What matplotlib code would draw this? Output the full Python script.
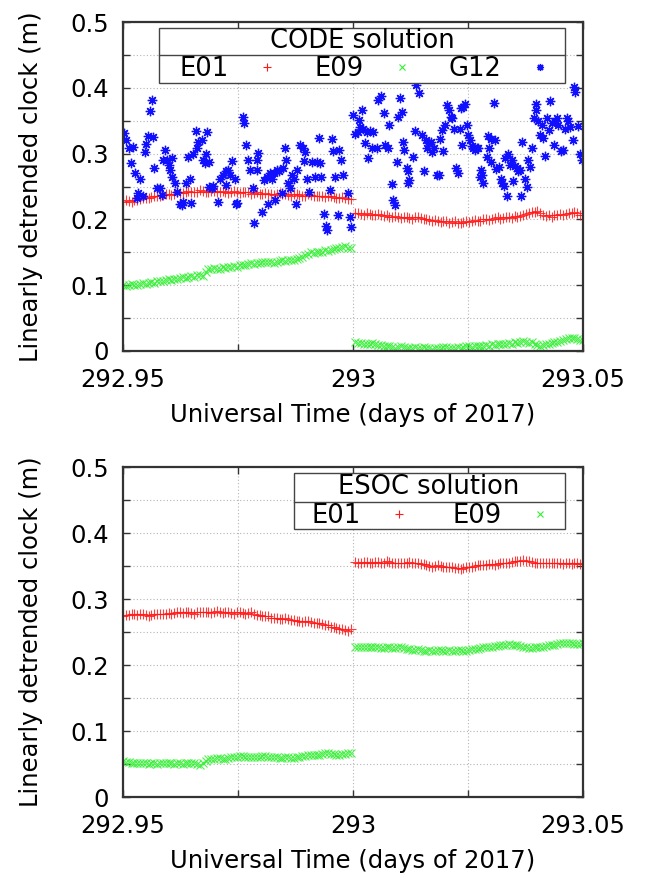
import numpy as np
import matplotlib
matplotlib.use("Agg")
import matplotlib.pyplot as plt
from matplotlib.patches import Rectangle
from matplotlib.lines import Line2D

plt.rcParams["font.family"] = ["DejaVu Sans"]

# ---------------- data ----------------
ARC1 = (292.95, 292.9995)   # first arc time span (days of 2017)
ARC2 = (293.0005, 293.05)   # second arc time span

# CODE solution (regularly sampled clock values, m)
code_e01_arc1 = [0.227, 0.229, 0.228, 0.227, 0.229, 0.230, 0.231, 0.233, 0.232, 0.232,
                 0.234, 0.236, 0.235, 0.235, 0.237, 0.238, 0.238, 0.237, 0.239, 0.241,
                 0.240, 0.240, 0.241, 0.243, 0.242, 0.241, 0.242, 0.244, 0.243, 0.241,
                 0.242, 0.243, 0.243, 0.241, 0.242, 0.243, 0.241, 0.240, 0.242, 0.243,
                 0.241, 0.240, 0.242, 0.242, 0.241, 0.239, 0.240, 0.241, 0.239, 0.238,
                 0.240, 0.239, 0.238, 0.237, 0.238, 0.240, 0.239, 0.238, 0.237, 0.236,
                 0.238, 0.239, 0.237, 0.236, 0.236, 0.238, 0.237, 0.235, 0.236, 0.236,
                 0.235, 0.234, 0.236, 0.235, 0.234, 0.232, 0.233, 0.234, 0.232, 0.231,
                 0.231]
code_e01_arc2 = [0.209, 0.210, 0.208, 0.207, 0.209, 0.208, 0.206, 0.207, 0.208, 0.206,
                 0.205, 0.206, 0.204, 0.203, 0.205, 0.204, 0.202, 0.203, 0.204, 0.202,
                 0.201, 0.203, 0.204, 0.202, 0.201, 0.200, 0.199, 0.198, 0.199, 0.197,
                 0.196, 0.198, 0.197, 0.195, 0.196, 0.197, 0.195, 0.194, 0.196, 0.197,
                 0.196, 0.198, 0.199, 0.197, 0.198, 0.200, 0.201, 0.199, 0.201, 0.202,
                 0.203, 0.201, 0.202, 0.204, 0.203, 0.202, 0.205, 0.204, 0.205, 0.207,
                 0.208, 0.210, 0.212, 0.211, 0.213, 0.210, 0.207, 0.205, 0.206, 0.204,
                 0.206, 0.207, 0.208, 0.206, 0.208, 0.209, 0.210, 0.211, 0.209, 0.207,
                 0.206]
code_e09_arc1 = [0.100, 0.099, 0.101, 0.102, 0.101, 0.100, 0.102, 0.103, 0.102, 0.104,
                 0.105, 0.104, 0.106, 0.107, 0.106, 0.108, 0.109, 0.108, 0.110, 0.109,
                 0.111, 0.112, 0.111, 0.113, 0.114, 0.113, 0.115, 0.116, 0.114, 0.120,
                 0.124, 0.125, 0.126, 0.124, 0.125, 0.127, 0.126, 0.128, 0.127, 0.129,
                 0.128, 0.130, 0.131, 0.130, 0.132, 0.133, 0.132, 0.134, 0.134, 0.135,
                 0.136, 0.135, 0.136, 0.134, 0.135, 0.137, 0.138, 0.137, 0.138, 0.139,
                 0.138, 0.140, 0.141, 0.143, 0.146, 0.148, 0.150, 0.149, 0.151, 0.150,
                 0.151, 0.153, 0.152, 0.154, 0.155, 0.156, 0.157, 0.158, 0.159, 0.157,
                 0.156]
code_e09_arc2 = [0.013, 0.012, 0.012, 0.011, 0.010, 0.011, 0.012, 0.010, 0.009, 0.009,
                 0.008, 0.007, 0.007, 0.006, 0.005, 0.006, 0.007, 0.006, 0.005, 0.004,
                 0.005, 0.006, 0.005, 0.004, 0.006, 0.005, 0.004, 0.003, 0.005, 0.004,
                 0.005, 0.006, 0.006, 0.005, 0.004, 0.005, 0.006, 0.005, 0.006, 0.007,
                 0.007, 0.006, 0.008, 0.007, 0.007, 0.008, 0.009, 0.008, 0.010, 0.009,
                 0.011, 0.010, 0.010, 0.011, 0.012, 0.011, 0.013, 0.012, 0.014, 0.015,
                 0.014, 0.012, 0.013, 0.010, 0.009, 0.008, 0.009, 0.010, 0.011, 0.012,
                 0.013, 0.014, 0.015, 0.016, 0.018, 0.019, 0.020, 0.019, 0.018, 0.017,
                 0.016]

code_g12_t = [292.9502, 292.9507, 292.9512, 292.9522, 292.9517, 292.9526, 292.9537, 292.9533,
              292.9530, 292.9544, 292.9559, 292.9562, 292.9555, 292.9566, 292.9550, 292.9548,
              292.9567, 292.9573, 292.9580, 292.9584, 292.9591, 292.9588, 292.9595, 292.9606,
              292.9599, 292.9602, 292.9606, 292.9613, 292.9617, 292.9624, 292.9631, 292.9628,
              292.9647, 292.9642, 292.9646, 292.9638, 292.9653, 292.9659, 292.9664, 292.9671,
              292.9660, 292.9673, 292.9680, 292.9683, 292.9678, 292.9688, 292.9686, 292.9693,
              292.9695, 292.9707, 292.9711, 292.9718, 292.9724, 292.9729, 292.9733, 292.9725,
              292.9738, 292.9743, 292.9746, 292.9747, 292.9760, 292.9763, 292.9767, 292.9772,
              292.9776, 292.9783, 292.9785, 292.9791, 292.9794, 292.9791, 292.9802, 292.9807,
              292.9812, 292.9816, 292.9820, 292.9823, 292.9830, 292.9828, 292.9834, 292.9840,
              292.9847, 292.9845, 292.9852, 292.9854, 292.9859, 292.9863, 292.9867, 292.9872,
              292.9878, 292.9876, 292.9885, 292.9891, 292.9893, 292.9896, 292.9899, 292.9905,
              292.9912, 292.9917, 292.9921, 292.9927, 292.9928, 292.9930, 292.9937, 292.9941,
              292.9943, 292.9950, 292.9954, 292.9957, 292.9961, 292.9968, 292.9970, 292.9975,
              292.9979, 292.9990, 292.9993, 292.9996,
              293.0001, 293.0013, 293.0010, 293.0015, 293.0004, 293.0019, 293.0022, 293.0030,
              293.0037, 293.0044, 293.0026, 293.0032, 293.0041, 293.0052, 293.0055, 293.0061,
              293.0068, 293.0070, 293.0077, 293.0078, 293.0085, 293.0088, 293.0091, 293.0095,
              293.0098, 293.0102, 293.0107, 293.0109, 293.0111, 293.0117, 293.0120, 293.0122,
              293.0119, 293.0131, 293.0135, 293.0138, 293.0143, 293.0149, 293.0155, 293.0158,
              293.0162, 293.0165, 293.0170, 293.0172, 293.0177, 293.0182, 293.0187, 293.0189,
              293.0193, 293.0196, 293.0200, 293.0204, 293.0209, 293.0213, 293.0216, 293.0220,
              293.0223, 293.0228, 293.0233, 293.0235, 293.0240, 293.0243, 293.0238, 293.0247,
              293.0251, 293.0254, 293.0258, 293.0262, 293.0265, 293.0269, 293.0272, 293.0278,
              293.0281, 293.0283, 293.0276, 293.0291, 293.0296, 293.0294, 293.0301, 293.0307,
              293.0309, 293.0301, 293.0312, 293.0317, 293.0322, 293.0325, 293.0329, 293.0334,
              293.0330, 293.0338, 293.0341, 293.0345, 293.0349, 293.0352, 293.0356, 293.0359,
              293.0363, 293.0367, 293.0365, 293.0374, 293.0378, 293.0381, 293.0385, 293.0390,
              293.0394, 293.0397, 293.0399, 293.0403, 293.0407, 293.0410, 293.0414, 293.0417,
              293.0421, 293.0428, 293.0426, 293.0432, 293.0437, 293.0439, 293.0443, 293.0446,
              293.0452, 293.0457, 293.0461, 293.0465, 293.0468, 293.0472, 293.0479, 293.0481,
              293.0483, 293.0490, 293.0493, 293.0498]
code_g12_clk = [0.332, 0.321, 0.308, 0.310, 0.286, 0.270, 0.262, 0.240,
                0.232, 0.236, 0.365, 0.381, 0.327, 0.325, 0.315, 0.303,
                0.278, 0.247, 0.247, 0.237, 0.305, 0.290, 0.290, 0.294,
                0.283, 0.275, 0.265, 0.255, 0.242, 0.224, 0.227, 0.222,
                0.225, 0.295, 0.262, 0.255, 0.300, 0.335, 0.317, 0.321,
                0.308, 0.290, 0.300, 0.333, 0.285, 0.288, 0.250, 0.247,
                0.251, 0.227, 0.262, 0.267, 0.273, 0.275, 0.267, 0.252,
                0.289, 0.262, 0.223, 0.225, 0.355, 0.346, 0.313, 0.290,
                0.275, 0.247, 0.195, 0.290, 0.301, 0.275, 0.212, 0.260,
                0.265, 0.224, 0.270, 0.261, 0.229, 0.270, 0.275, 0.274,
                0.278, 0.240, 0.308, 0.290, 0.255, 0.247, 0.267, 0.262,
                0.275, 0.223, 0.313, 0.309, 0.289, 0.303, 0.262, 0.242,
                0.288, 0.264, 0.288, 0.323, 0.285, 0.265, 0.208, 0.190,
                0.184, 0.245, 0.322, 0.304, 0.265, 0.207, 0.306, 0.290,
                0.267, 0.240, 0.203, 0.189,
                0.359, 0.351, 0.333, 0.341, 0.330, 0.367, 0.338, 0.333,
                0.335, 0.333, 0.316, 0.293, 0.309, 0.308, 0.381, 0.388,
                0.361, 0.313, 0.309, 0.343, 0.254, 0.229, 0.222, 0.288,
                0.356, 0.384, 0.364, 0.317, 0.305, 0.278, 0.273, 0.260,
                0.256, 0.295, 0.335, 0.404, 0.392, 0.328, 0.273, 0.321,
                0.309, 0.316, 0.318, 0.303, 0.308, 0.267, 0.267, 0.322,
                0.336, 0.304, 0.343, 0.374, 0.366, 0.356, 0.354, 0.337,
                0.278, 0.271, 0.337, 0.369, 0.371, 0.376, 0.313, 0.343,
                0.328, 0.321, 0.312, 0.308, 0.306, 0.309, 0.308, 0.275,
                0.267, 0.256, 0.265, 0.295, 0.309, 0.327, 0.322, 0.377,
                0.321, 0.288, 0.276, 0.280, 0.262, 0.256, 0.251, 0.236,
                0.294, 0.299, 0.283, 0.291, 0.259, 0.281, 0.278, 0.273,
                0.275, 0.317, 0.236, 0.262, 0.250, 0.290, 0.279, 0.308,
                0.354, 0.376, 0.366, 0.349, 0.328, 0.343, 0.323, 0.296,
                0.354, 0.380, 0.336, 0.346, 0.313, 0.349, 0.354, 0.343,
                0.304, 0.306, 0.338, 0.354, 0.349, 0.341, 0.321, 0.402,
                0.394, 0.342, 0.300, 0.290]

# ESOC solution
esoc_e01_arc1 = [0.275, 0.276, 0.276, 0.277, 0.277, 0.276, 0.277, 0.278, 0.276, 0.274,
                 0.276, 0.277, 0.278, 0.277, 0.277, 0.278, 0.279, 0.278, 0.279, 0.280,
                 0.280, 0.279, 0.280, 0.281, 0.279, 0.278, 0.280, 0.281, 0.281, 0.280,
                 0.280, 0.279, 0.281, 0.282, 0.280, 0.279, 0.280, 0.281, 0.279, 0.278,
                 0.280, 0.281, 0.279, 0.278, 0.279, 0.280, 0.277, 0.276, 0.276, 0.275,
                 0.275, 0.274, 0.272, 0.271, 0.271, 0.270, 0.270, 0.271, 0.270, 0.268,
                 0.268, 0.267, 0.266, 0.265, 0.266, 0.267, 0.265, 0.264, 0.264, 0.263,
                 0.262, 0.260, 0.260, 0.258, 0.257, 0.256, 0.255, 0.254, 0.253, 0.252,
                 0.254]
esoc_e01_arc2 = [0.356, 0.355, 0.355, 0.356, 0.356, 0.354, 0.355, 0.356, 0.356, 0.355,
                 0.355, 0.357, 0.356, 0.355, 0.355, 0.354, 0.354, 0.355, 0.355, 0.356,
                 0.355, 0.354, 0.354, 0.353, 0.353, 0.351, 0.350, 0.349, 0.350, 0.351,
                 0.350, 0.349, 0.349, 0.348, 0.348, 0.347, 0.347, 0.346, 0.347, 0.348,
                 0.348, 0.349, 0.350, 0.351, 0.351, 0.352, 0.352, 0.353, 0.353, 0.352,
                 0.353, 0.354, 0.354, 0.355, 0.355, 0.356, 0.357, 0.357, 0.358, 0.359,
                 0.358, 0.357, 0.356, 0.354, 0.354, 0.355, 0.355, 0.354, 0.354, 0.355,
                 0.355, 0.354, 0.354, 0.353, 0.354, 0.354, 0.353, 0.354, 0.354, 0.353,
                 0.353]
esoc_e09_arc1 = [0.054, 0.053, 0.053, 0.052, 0.052, 0.051, 0.051, 0.052, 0.052, 0.050,
                 0.051, 0.052, 0.050, 0.051, 0.052, 0.051, 0.052, 0.051, 0.050, 0.052,
                 0.051, 0.050, 0.051, 0.052, 0.052, 0.051, 0.050, 0.049, 0.051, 0.055,
                 0.057, 0.058, 0.058, 0.059, 0.059, 0.058, 0.057, 0.059, 0.060, 0.061,
                 0.061, 0.062, 0.062, 0.061, 0.061, 0.060, 0.060, 0.061, 0.061, 0.062,
                 0.062, 0.061, 0.061, 0.060, 0.060, 0.059, 0.059, 0.060, 0.060, 0.059,
                 0.059, 0.060, 0.061, 0.062, 0.062, 0.063, 0.064, 0.063, 0.063, 0.064,
                 0.065, 0.066, 0.066, 0.065, 0.065, 0.064, 0.064, 0.065, 0.065, 0.066,
                 0.066]
esoc_e09_arc2 = [0.228, 0.227, 0.227, 0.228, 0.228, 0.227, 0.227, 0.228, 0.228, 0.226,
                 0.226, 0.227, 0.227, 0.226, 0.226, 0.227, 0.227, 0.226, 0.225, 0.224,
                 0.223, 0.223, 0.224, 0.223, 0.222, 0.222, 0.223, 0.222, 0.222, 0.223,
                 0.223, 0.222, 0.222, 0.223, 0.222, 0.222, 0.223, 0.223, 0.222, 0.222,
                 0.223, 0.224, 0.224, 0.225, 0.226, 0.227, 0.227, 0.228, 0.228, 0.229,
                 0.229, 0.230, 0.230, 0.231, 0.232, 0.231, 0.231, 0.230, 0.229, 0.228,
                 0.227, 0.226, 0.226, 0.227, 0.227, 0.228, 0.228, 0.229, 0.230, 0.231,
                 0.231, 0.232, 0.233, 0.234, 0.234, 0.233, 0.233, 0.232, 0.232, 0.232,
                 0.233]

x_ticks = [292.95, 293.0, 293.05]
x_tick_labels = ["292.95", "293", "293.05"]
x_minor = [292.975, 293.025]
y_ticks = [0.0, 0.1, 0.2, 0.3, 0.4, 0.5]
y_tick_labels = ["0", "0.1", "0.2", "0.3", "0.4", "0.5"]
y_minor = [0.05, 0.15, 0.25, 0.35, 0.45]


def epochs(span, values):
    """Regular sampling epochs of an arc, one per recorded value."""
    return np.linspace(span[0], span[1], len(values))


# ---------------- styles ----------------
RED, GREEN, BLUE = "#ff1a1a", "#33ee33", "#1010ff"
E01_STYLE = dict(marker="+", ms=6.8, mew=0.8, color=RED, ls="none", alpha=0.85)
E09_STYLE = dict(marker="x", ms=5.3, mew=0.8, color=GREEN, ls="none", alpha=0.85)
G12_STYLE = dict(marker=(8, 2, 0), ms=6.8, mew=0.95, color=BLUE, ls="none")
TICK_FS = 17.5
LABEL_FS = 17.5
LEG_FS = 18.5

fig = plt.figure(figsize=(6.46, 8.81), dpi=100)
ax1 = fig.add_axes([0.1904, 0.6016, 0.712, 0.3734])
ax2 = fig.add_axes([0.1904, 0.0953, 0.712, 0.3746])


def style_axes(ax):
    ax.set_xlim(292.95, 293.05)
    ax.set_ylim(0, 0.5)
    ax.set_xticks(x_ticks)
    ax.set_xticklabels(x_tick_labels)
    ax.set_xticks(x_minor, minor=True)
    ax.set_yticks(y_ticks)
    ax.set_yticklabels(y_tick_labels)
    ax.set_yticks(y_minor, minor=True)
    ax.tick_params(which="both", direction="in", top=True, right=True,
                   length=5, width=1.0, color="#333333")
    ax.tick_params(axis="both", which="major", labelsize=TICK_FS)
    ax.tick_params(axis="x", pad=12)
    ax.tick_params(axis="y", pad=10)
    ax.grid(which="both", color="#b5b5b5", linestyle=(0, (1, 2)), linewidth=0.8)
    ax.set_axisbelow(True)
    for s in ax.spines.values():
        s.set_linewidth(1.6)
        s.set_color("#333333")
    ax.set_xlabel("Universal Time (days of 2017)", fontsize=LABEL_FS, labelpad=8)
    ax.set_ylabel("Linearly detrended clock (m)", fontsize=LABEL_FS, labelpad=20)


def make_legend(ax, title, handles, labels, box, divider_y, title_x, entry_box):
    x0, y0, x1, y1 = box
    ax.add_patch(Rectangle((x0, y0), x1 - x0, y1 - y0, transform=ax.transAxes,
                           facecolor="white", edgecolor="#444444", lw=1.0,
                           zorder=6, clip_on=False))
    ax.add_line(Line2D([x0, x1], [divider_y, divider_y], transform=ax.transAxes,
                       color="#444444", lw=1.0, zorder=7))
    ax.text(title_x, (divider_y + y1) / 2, title, transform=ax.transAxes,
            ha="center", va="center", fontsize=LEG_FS, zorder=8)
    ex0, ex1 = entry_box
    leg = ax.legend(handles, labels, ncol=len(labels), mode="expand",
                    loc="center", bbox_to_anchor=(ex0, y0, ex1 - ex0, divider_y - y0),
                    frameon=False, markerfirst=False, fontsize=LEG_FS,
                    handlelength=1.0, handletextpad=1.0, borderaxespad=0,
                    borderpad=0, markerscale=0.75)
    for lh in leg.legend_handles:
        lh.set_alpha(1.0)
    leg.set_zorder(9)
    return leg


# ---------------- top panel: CODE ----------------
style_axes(ax1)
h_e01, = ax1.plot(epochs(ARC1, code_e01_arc1), code_e01_arc1, **E01_STYLE)
ax1.plot(epochs(ARC2, code_e01_arc2), code_e01_arc2, **E01_STYLE)
h_e09, = ax1.plot(epochs(ARC1, code_e09_arc1), code_e09_arc1, **E09_STYLE)
ax1.plot(epochs(ARC2, code_e09_arc2), code_e09_arc2, **E09_STYLE)
h_g12, = ax1.plot(code_g12_t, code_g12_clk, **G12_STYLE)
make_legend(ax1, "CODE solution", [h_e01, h_e09, h_g12], ["E01", "E09", "G12"],
            (0.078, 0.815, 0.961, 0.982), 0.900, 0.52, (0.122, 0.935))

# ---------------- bottom panel: ESOC ----------------
style_axes(ax2)
k_e01, = ax2.plot(epochs(ARC1, esoc_e01_arc1), esoc_e01_arc1, **E01_STYLE)
ax2.plot(epochs(ARC2, esoc_e01_arc2), esoc_e01_arc2, **E01_STYLE)
k_e09, = ax2.plot(epochs(ARC1, esoc_e09_arc1), esoc_e09_arc1, **E09_STYLE)
ax2.plot(epochs(ARC2, esoc_e09_arc2), esoc_e09_arc2, **E09_STYLE)
make_legend(ax2, "ESOC solution", [k_e01, k_e09], ["E01", "E09"],
            (0.372, 0.812, 0.961, 0.982), 0.894, 0.665, (0.41, 0.935))

fig.savefig("out.png", dpi=100)
